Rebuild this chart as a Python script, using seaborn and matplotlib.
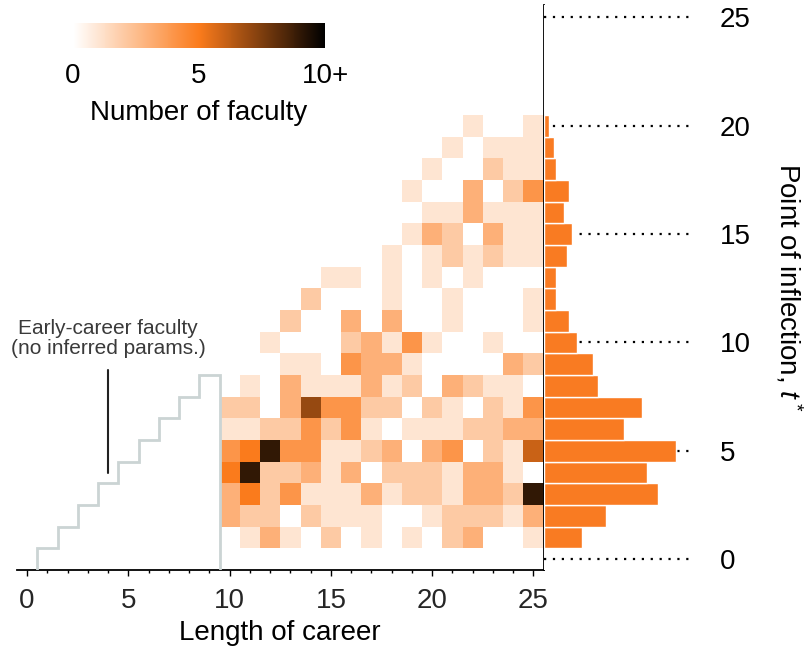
import matplotlib
matplotlib.use('Agg')

import matplotlib.pyplot as plt
import seaborn as sns
import pandas as pd
from matplotlib.colors import LinearSegmentedColormap

# career length (columns of the grid) and point of inflection t* (rows)
career_lengths = [10, 11, 12, 13, 14, 15, 16, 17, 18, 19, 20, 21, 22, 23, 24, 25]
tstar_values = [1, 2, 3, 4, 5, 6, 7, 8, 9, 10, 11, 12, 13, 14, 15, 16, 17, 18, 19, 20]

# number of faculty per cell, one row per t* (1..20), one column per career length (10..25)
counts = [
    [0, 1, 3, 1, 0, 2, 0, 1, 0, 1, 0, 2, 3, 0, 0, 1],
    [3, 2, 2, 0, 2, 1, 1, 1, 0, 0, 1, 2, 2, 2, 1, 3],
    [3, 5, 2, 4, 1, 1, 1, 3, 1, 2, 2, 1, 3, 3, 2, 9],
    [5, 9, 2, 2, 3, 1, 3, 0, 2, 2, 2, 1, 3, 3, 1, 0],
    [4, 5, 9, 4, 4, 1, 1, 2, 3, 0, 3, 4, 0, 2, 1, 6],
    [1, 1, 2, 2, 4, 2, 4, 1, 0, 1, 1, 1, 2, 2, 3, 3],
    [2, 2, 0, 3, 7, 4, 4, 2, 2, 0, 2, 1, 0, 2, 1, 4],
    [0, 1, 0, 3, 1, 1, 1, 3, 1, 2, 0, 3, 2, 1, 1, 0],
    [0, 0, 0, 1, 1, 0, 4, 3, 3, 1, 0, 0, 0, 0, 3, 2],
    [0, 0, 1, 0, 0, 0, 2, 3, 1, 4, 1, 0, 0, 1, 0, 0],
    [0, 0, 0, 2, 0, 0, 3, 0, 3, 0, 0, 1, 0, 0, 0, 1],
    [0, 0, 0, 0, 2, 0, 0, 0, 1, 0, 0, 1, 0, 0, 0, 1],
    [0, 0, 0, 0, 0, 1, 1, 0, 1, 0, 1, 0, 1, 0, 0, 0],
    [0, 0, 0, 0, 0, 0, 0, 0, 1, 0, 1, 2, 1, 2, 1, 1],
    [0, 0, 0, 0, 0, 0, 0, 0, 0, 1, 3, 2, 0, 3, 1, 1],
    [0, 0, 0, 0, 0, 0, 0, 0, 0, 0, 1, 1, 3, 1, 1, 1],
    [0, 0, 0, 0, 0, 0, 0, 0, 0, 1, 0, 0, 3, 0, 2, 4],
    [0, 0, 0, 0, 0, 0, 0, 0, 0, 0, 1, 0, 0, 2, 1, 1],
    [0, 0, 0, 0, 0, 0, 0, 0, 0, 0, 0, 1, 0, 1, 1, 1],
    [0, 0, 0, 0, 0, 0, 0, 0, 0, 0, 0, 0, 1, 0, 0, 1],
]

# marginal histogram of t* (bars on the right)
hist_counts = [15, 24, 44, 40, 51, 31, 38, 21, 19, 13, 10, 5, 5, 9, 11, 8, 10, 5, 4, 2]

# early-career faculty: no inferred parameters below this boundary
early_lengths = [1, 2, 3, 4, 5, 6, 7, 8, 9]
early_limit = [0.5, 1.5, 2.5, 3.5, 4.5, 5.5, 6.5, 7.5, 8.5]

sns.set_theme(style='white')
plt.rcParams['font.family'] = ['Liberation Sans', 'DejaVu Sans']
plt.rcParams['mathtext.fontset'] = 'custom'
plt.rcParams['mathtext.rm'] = 'Liberation Sans'
plt.rcParams['mathtext.it'] = 'Liberation Sans:italic'

df = pd.DataFrame(
    [(c, t, n) for t, row in zip(tstar_values, counts) for c, n in zip(career_lengths, row)],
    columns=['career', 'tstar', 'count'],
)

W, H = 808, 656
fig = plt.figure(figsize=(W / 100, H / 100), dpi=100)
ax = fig.add_axes([17 / W, 86 / H, 526.5 / W, 565 / H])
axh = fig.add_axes([543.5 / W, 86 / H, 151.5 / W, 565 / H], sharey=ax)
cax = fig.add_axes([73 / W, 1 - 48 / H, 252 / W, 25 / H])

orange = '#f97b22'
cmap = LinearSegmentedColormap.from_list('faculty', ['#ffffff', '#fb7b1c', '#000000'])

# main grid
sns.histplot(data=df, x='career', y='tstar', weights='count', discrete=True,
             cmap=cmap, vmin=0, vmax=10, ax=ax, cbar=True, cbar_ax=cax,
             cbar_kws={'orientation': 'horizontal', 'ticks': [0, 5, 10]})

# early-career staircase
edges = [l - 0.5 for l in early_lengths] + [early_lengths[-1] + 0.5]
ax.stairs(early_limit, edges, baseline=-0.5, color='#cbd4d4', linewidth=2, zorder=5)

ax.text(4, 10.18, 'Early-career faculty\n(no inferred params.)', ha='center', va='center',
        fontsize=15, color='#3a3a3a', linespacing=1.1)
ax.plot([4, 4], [3.97, 8.73], color='#222222', linewidth=1.5)

ax.set_xlim(-0.5, 25.5)
ax.set_ylim(-0.5, 25.57)
ax.set_xticks(range(0, 26, 5))
ax.set_xticks(range(0, 26), minor=True)
ax.tick_params(axis='x', which='major', bottom=True, length=4.3, width=1, direction='out',
               labelsize=20, pad=9, color='black')
ax.tick_params(axis='x', which='minor', bottom=True, length=2.5, width=1, direction='out',
               color='black')
ax.tick_params(axis='y', left=False, labelleft=False)
for side in ['left', 'top']:
    ax.spines[side].set_visible(False)
for side in ['right', 'bottom']:
    ax.spines[side].set_color('black')
    ax.spines[side].set_linewidth(1.3)
ax.set_xlabel('Length of career', fontsize=20, labelpad=4, color='black')
ax.set_ylabel('')

# marginal histogram
sns.histplot(y=tstar_values, weights=hist_counts, discrete=True, shrink=1, color=orange,
             alpha=1, edgecolor='white', linewidth=1, ax=axh, zorder=3)
axh.set_xlim(0, 58.3)
axh.set_xticks([])
axh.set_xlabel('')
axh.set_yticks(range(0, 26, 5))
for side in axh.spines:
    axh.spines[side].set_visible(False)
axh.grid(True, axis='y', color='black', linestyle=(0, (1, 3)), linewidth=1.6)
axh.set_axisbelow(True)
axh.tick_params(axis='y', left=False, labelleft=False, right=False, labelright=True,
                labelsize=20, pad=12, labelcolor='black')
axh.yaxis.set_label_position('right')
axh.set_ylabel(r'Point of inflection, $t^*$', fontsize=20, rotation=270, va='bottom',
               labelpad=16, color='black')

# colorbar
cbar = ax.collections[0].colorbar
cbar.outline.set_visible(False)
cax.set_xticklabels(['0', '5', '10+'])
cax.tick_params(length=0, labelsize=20, pad=11, labelcolor='black')
cax.set_xlabel('Number of faculty', fontsize=20, labelpad=8, color='black')

fig.savefig('out.png', dpi=100)
